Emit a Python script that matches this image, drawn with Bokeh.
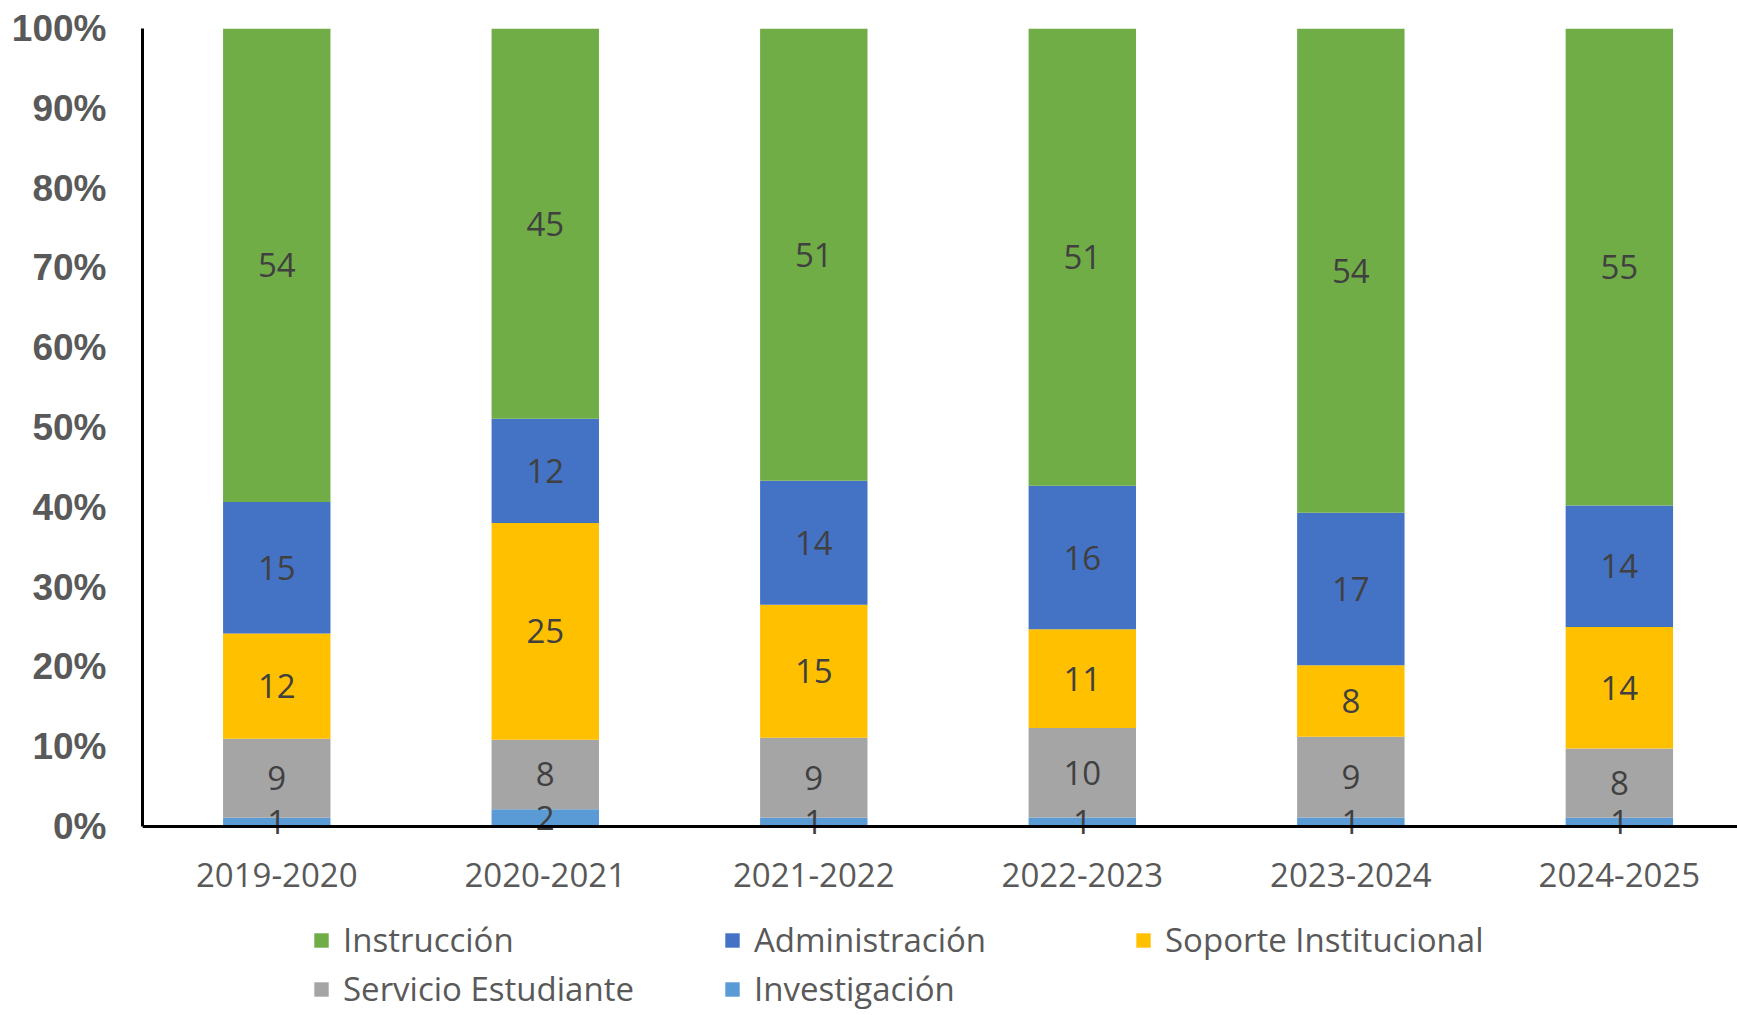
from bokeh.plotting import figure
from bokeh.models import ColumnDataSource, Range1d, FixedTicker, PrintfTickFormatter, Legend, LegendItem
from bokeh.core.properties import value
from bokeh.embed import file_html
from bokeh.resources import INLINE

years = ["2019-2020", "2020-2021", "2021-2022", "2022-2023", "2023-2024", "2024-2025"]
investigacion = [1, 2, 1, 1, 1, 1]
servicio = [9, 8, 9, 10, 9, 8]
soporte = [12, 25, 15, 11, 8, 14]
administracion = [15, 12, 14, 16, 17, 14]
instruccion = [54, 45, 51, 51, 54, 55]

series_names = ["Investigación", "Servicio Estudiante", "Soporte Institucional", "Administración", "Instrucción"]
series_vals = [investigacion, servicio, soporte, administracion, instruccion]
colors = ["#5B9BD5", "#A5A5A5", "#FFC000", "#4472C4", "#70AD47"]
y_ticks = [0, 10, 20, 30, 40, 50, 60, 70, 80, 90, 100]

n = len(years)
totals = [sum(s[i] for s in series_vals) for i in range(n)]
data = {"x": list(range(n))}
keys = []
for k, s in enumerate(series_vals):
    key = f"s{k}"
    keys.append(key)
    data[key] = [s[i] / totals[i] * 100 for i in range(n)]
src = ColumnDataSource(data)

# frame extends to the bottom of the canvas; the area below 0 holds tick labels and legend
p = figure(width=1737, height=1015, output_backend="svg", toolbar_location=None,
           x_range=Range1d(-0.5, 5.44), y_range=Range1d(-23.68, 100),
           min_border_left=142, min_border_right=0, min_border_top=28, min_border_bottom=0)
p.outline_line_color = None
p.xgrid.visible = False
p.ygrid.visible = False

rends = p.vbar_stack(keys, x="x", width=0.4, color=colors, source=src, line_color=None)

# data labels
lx, ly, lt = [], [], []
for i in range(n):
    cum = 0
    for k, s in enumerate(series_vals):
        pct = s[i] / totals[i] * 100
        lx.append(i)
        ly.append(cum + pct / 2)
        lt.append(str(s[i]))
        cum += pct
p.text(x=lx, y=ly, text=lt, text_align="center", text_baseline="middle",
       text_font=value("Open Sans"), text_font_size="33px", text_color="#404040")

# axes
p.xaxis.fixed_location = 0
p.xaxis.ticker = FixedTicker(ticks=list(range(n)))
p.xaxis.major_label_overrides = {i: years[i] for i in range(n)}
p.xaxis.axis_line_width = 3
p.xaxis.axis_line_color = "black"
p.xaxis.major_tick_line_color = None
p.xaxis.minor_tick_line_color = None
p.xaxis.major_label_standoff = 30
p.xaxis.major_label_text_font = "Open Sans"
p.xaxis.major_label_text_font_size = "33px"
p.xaxis.major_label_text_color = "#595959"

p.yaxis.bounds = (0, 100)
p.yaxis.ticker = FixedTicker(ticks=y_ticks)
p.yaxis.formatter = PrintfTickFormatter(format="%d%%")
p.yaxis.axis_line_width = 3
p.yaxis.axis_line_color = "black"
p.yaxis.major_tick_line_color = None
p.yaxis.minor_tick_line_color = None
p.yaxis.major_label_standoff = 30
p.yaxis.major_label_text_font = "Liberation Sans"
p.yaxis.major_label_text_font_style = "bold"
p.yaxis.major_label_text_font_size = "37px"
p.yaxis.major_label_text_color = "#595959"

order = [4, 3, 2, 1, 0]
items = [LegendItem(label=series_names[k], renderers=[rends[k]]) for k in order]
legend = Legend(items=items, location=(170, 4), orientation="horizontal", ncols=3,
                label_text_font="Open Sans", label_text_font_size="33px", label_text_color="#595959",
                glyph_width=18, glyph_height=18, label_standoff=13, label_width=376, label_height=40,
                spacing=4, padding=0, margin=0, border_line_color=None, background_fill_alpha=0)
p.add_layout(legend, "center")

open("out.html", "w").write(file_html(p, INLINE))
